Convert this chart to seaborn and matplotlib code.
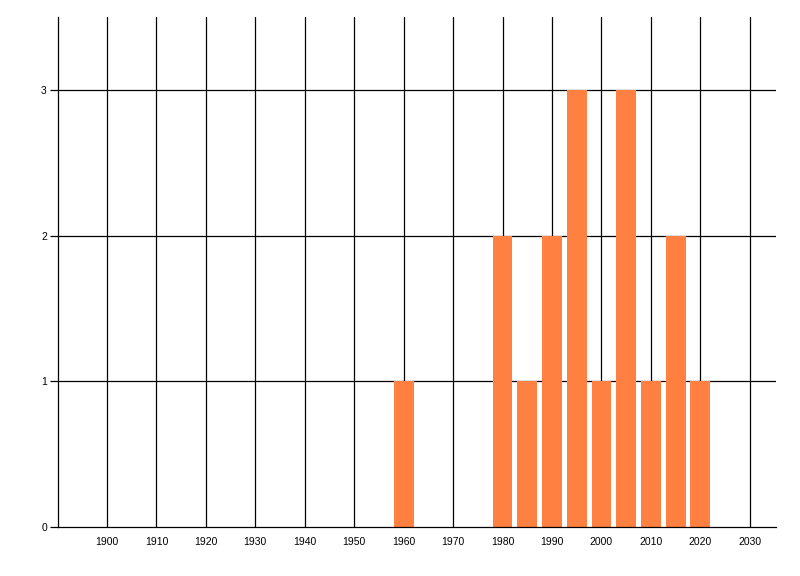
import matplotlib
matplotlib.use("Agg")
import matplotlib.pyplot as plt
import seaborn as sns

# Dados
anos = [1960, 1980, 1985, 1990, 1995, 2000, 2005, 2010, 2015, 2020]
contagens = [1, 2, 1, 2, 3, 1, 3, 1, 2, 1]
x_ticks = list(range(1900, 2031, 10))
y_ticks = [0, 1, 2, 3]

sns.set_style("white")
plt.rcParams['font.family'] = ['Liberation Sans', 'DejaVu Sans']

fig = plt.figure(figsize=(8, 5.76), dpi=100)
ax = fig.add_axes([0.0725, 0.0851, 0.8975, 0.8854])

sns.barplot(x=anos, y=contagens, native_scale=True, width=0.8,
            color='#FF8040', saturation=1, edgecolor='none', linewidth=0,
            ax=ax, zorder=3)

ax.set_xlim(1890.1, 2035.3)
ax.set_ylim(0, 3.5)
ax.set_xticks(x_ticks)
ax.set_yticks(y_ticks)
ax.set_xticklabels([str(a) for a in x_ticks])
ax.set_yticklabels([str(v) for v in y_ticks])

# grade preta
for a in x_ticks:
    ax.axvline(a, color='black', lw=0.9, zorder=1)
for v in y_ticks[1:]:
    ax.axhline(v, color='black', lw=0.9, zorder=1)

for lado in ['top', 'right']:
    ax.spines[lado].set_visible(False)
for lado in ['left', 'bottom']:
    ax.spines[lado].set_color('black')
    ax.spines[lado].set_linewidth(0.9)
    ax.spines[lado].set_zorder(4)

ax.tick_params(axis='x', length=0, pad=7, labelsize=7.5, colors='black')
ax.tick_params(axis='y', length=6, width=0.9, pad=2, labelsize=7.5, colors='black', left=True)
ax.set_xlabel('')
ax.set_ylabel('')

fig.savefig('out.png', dpi=100)
